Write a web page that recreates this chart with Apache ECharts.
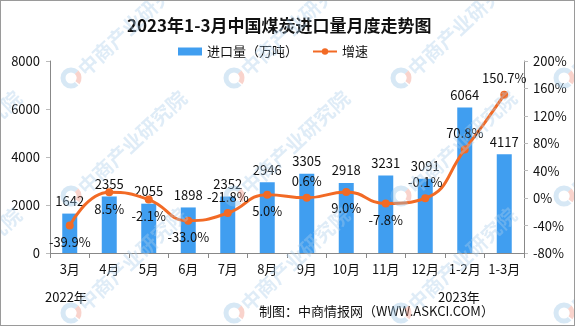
<!DOCTYPE html>
<html>
<head>
<meta charset="utf-8">
<style>
  html, body { margin: 0; padding: 0; background: #fff; }
  #chart { width: 575px; height: 326px; box-sizing: border-box; border: 1px solid #9a9a9a; }
</style>
<script src="https://cdn.jsdelivr.net/npm/echarts@6/dist/echarts.min.js"></script>
</head>
<body>
<div id="chart"></div>
<script>
// 月份类目
const months = ['3月', '4月', '5月', '6月', '7月', '8月', '9月', '10月', '11月', '12月', '1-2月', '1-3月'];
// 进口量（万吨）
const importVolume = [1642, 2355, 2055, 1898, 2352, 2946, 3305, 2918, 3231, 3091, 6064, 4117];
// 同比增速（%）
const growthRate = [-39.9, 8.5, -2.1, -33.0, -21.8, 5.0, 0.6, 9.0, -7.8, -0.1, 70.8, 150.7];
// 增速标签位置：上方或下方
const growthLabelPos = ['bottom', 'bottom', 'bottom', 'bottom', 'top', 'bottom', 'top', 'bottom', 'bottom', 'top', 'top', 'top'];

const FONT = '"Noto Sans CJK SC", "DejaVu Sans", sans-serif';
const chart = echarts.init(document.getElementById('chart'));

// 水印：圆形标志 + 斜向文字，平铺
const markCols = [-95, 70, 233, 400, 563];
const markRows = [77, 195, 312];
const watermark = [];
const ang = 43 * Math.PI / 180;
markRows.forEach(y => {
  markCols.forEach(x => {
    watermark.push({
      type: 'arc', silent: true, z: 100,
      shape: { cx: x, cy: y, r: 8, startAngle: 0.25 * Math.PI, endAngle: 1.75 * Math.PI },
      style: { stroke: 'rgba(150,195,230,0.38)', lineWidth: 5, fill: null }
    });
    watermark.push({
      type: 'arc', silent: true, z: 100,
      shape: { cx: x, cy: y, r: 8, startAngle: 1.75 * Math.PI, endAngle: 2.2 * Math.PI },
      style: { stroke: 'rgba(240,140,120,0.38)', lineWidth: 5, fill: null }
    });
    watermark.push({
      type: 'text', silent: true, z: 100,
      x: x + 10, y: y - 6, rotation: ang,
      style: {
        text: '中商产业研究院', font: 'bold 20px ' + FONT,
        fill: 'rgba(170,205,235,0.38)', textAlign: 'left', textVerticalAlign: 'middle'
      }
    });
  });
});

chart.setOption({
  animation: false,
  title: {
    text: '2023年1-3月中国煤炭进口量月度走势图',
    left: 121,
    top: 11,
    textStyle: { fontFamily: FONT, fontSize: 17, fontWeight: 'bold', color: '#111' }
  },
  legend: {
    top: 39,
    left: 172,
    itemWidth: 24,
    itemHeight: 8,
    itemGap: 14,
    textStyle: { fontFamily: FONT, fontSize: 13, color: '#111' },
    data: [
      { name: '进口量（万吨）', icon: 'rect' },
      { name: '增速' }
    ]
  },
  grid: { left: 49, right: 50, top: 60, bottom: 72 },
  xAxis: {
    type: 'category',
    data: months,
    boundaryGap: true,
    axisLine: { lineStyle: { color: '#888' } },
    axisTick: { show: true, interval: 0, length: 5, lineStyle: { color: '#888' } },
    axisLabel: { interval: 0, margin: 10, fontFamily: FONT, fontSize: 13, color: '#111' }
  },
  yAxis: [
    {
      type: 'value',
      min: 0, max: 8000, interval: 2000,
      axisLine: { show: true, lineStyle: { color: '#888' } },
      axisTick: { show: true, length: 4, lineStyle: { color: '#bbb' } },
      splitLine: { show: false },
      axisLabel: { formatter: v => String(v), fontFamily: FONT, fontSize: 13, color: '#111', margin: 10 }
    },
    {
      type: 'value',
      min: -80, max: 200, interval: 40,
      axisLine: { show: true, lineStyle: { color: '#888' } },
      axisTick: { show: true, length: 4, lineStyle: { color: '#bbb' } },
      splitLine: { show: false },
      axisLabel: { formatter: '{value}%', fontFamily: FONT, fontSize: 13, color: '#111', margin: 9 }
    }
  ],
  series: [
    {
      name: '进口量（万吨）',
      type: 'bar',
      data: importVolume,
      barWidth: 15,
      itemStyle: { color: '#409ef0' },
      label: {
        show: true, position: 'top', distance: 6,
        fontFamily: FONT, fontSize: 13, color: '#111'
      }
    },
    {
      name: '增速',
      type: 'line',
      yAxisIndex: 1,
      smooth: true,
      symbol: 'circle',
      symbolSize: 8,
      lineStyle: { color: '#f26a25', width: 3 },
      itemStyle: { color: '#f26a25' },
      data: growthRate.map((v, i) => ({
        value: v,
        label: { position: growthLabelPos[i] }
      })),
      label: {
        show: true, distance: 6,
        formatter: p => p.value.toFixed(1) + '%',
        fontFamily: FONT, fontSize: 13, color: '#111'
      },
      z: 3
    }
  ],
  graphic: watermark.concat([
    { type: 'text', left: 44, top: 290, style: { text: '2022年', font: '13px ' + FONT, fill: '#111' } },
    { type: 'text', left: 437, top: 290, style: { text: '2023年', font: '13px ' + FONT, fill: '#111' } },
    { type: 'text', left: 258, top: 304, style: { text: '制图：中商情报网（WWW.ASKCI.COM）', font: '13px ' + FONT, fill: '#111' } }
  ])
});
</script>
</body>
</html>
